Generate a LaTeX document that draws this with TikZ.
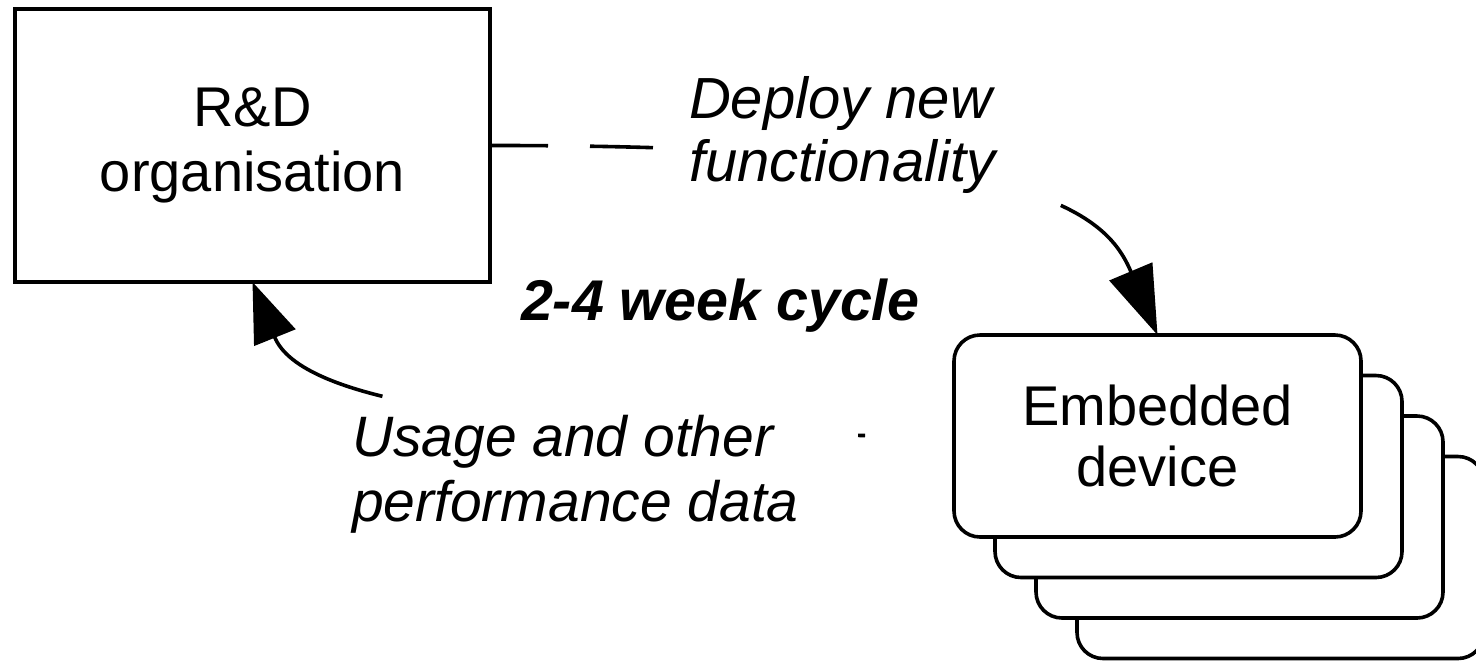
\documentclass[tikz,border=0pt]{standalone}
\usepackage{fontspec}
\setmainfont{Liberation Sans}
\usetikzlibrary{arrows.meta}
\begin{document}
\begin{tikzpicture}[x=0.5pt,y=-0.5pt,
  every node/.style={inner sep=0pt, outer sep=0pt},
  rdbox/.style={draw, line width=1.8pt, fill=white, minimum width=237.5pt, minimum height=136.5pt, align=center, font=\fontsize{28}{32.5}\selectfont},
  devbox/.style={draw, line width=1.8pt, fill=white, rounded corners=13pt, minimum width=203.5pt, minimum height=101pt, align=center, font=\fontsize{28}{30.5}\selectfont},
  lbl/.style={font=\fontsize{29}{31.5}\selectfont\itshape, align=left},
  conn/.style={line width=1.8pt},
]
\useasboundingbox (0,0) rectangle (1476,660);
\clip (0,0) rectangle (1476,660);

% R&D organisation
\node[rdbox] (rd) at (252.5,145.5) {R\&D\\organisation};

% stack of embedded devices (back to front)
\node[devbox] (dev4) at (1280.5,557.5) {};
\node[devbox] (dev3) at (1239.5,517) {};
\node[devbox] (dev2) at (1198.5,476.5) {};
\node[devbox] (dev1) at (1157.5,436) {Embedded\\device};

% labels
\node[lbl, anchor=north west] (deploy) at (689,76) {Deploy new\\functionality};
\node[lbl, anchor=base west, font=\fontsize{28.7}{30}\selectfont\bfseries\itshape] (cycle) at (521,320) {2-4 week cycle};
\node[lbl, anchor=north west, font=\fontsize{28.5}{32.5}\selectfont\itshape] (usage) at (352,415) {Usage and other\\performance data};

% connectors
\draw[conn, dash pattern=on 29pt off 21pt on 31.5pt off 207pt on 300pt,
      -{Triangle[length=34.5pt,width=23pt]}]
  (rd.east) .. controls (1030,145) and (1105,210) .. (dev1.north);
\draw[conn, dash pattern=on 0pt off 44.5pt on 3.5pt off 239pt on 300pt,
      -{Triangle[length=30pt,width=22pt]}]
  (dev1.west) .. controls (500,436) and (300,400) .. (rd.south);
\end{tikzpicture}
\end{document}
